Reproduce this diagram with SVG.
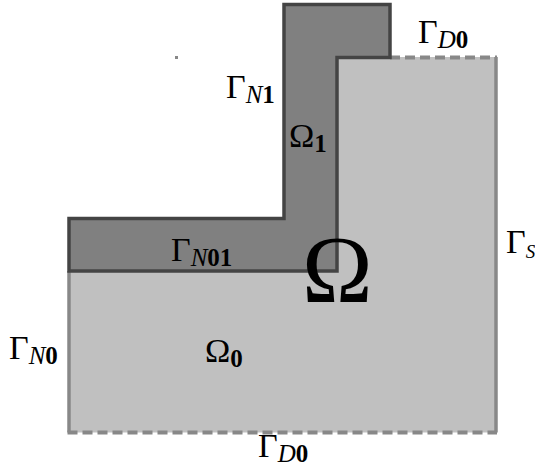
<svg xmlns="http://www.w3.org/2000/svg" width="535" height="474" viewBox="0 0 535 474">
<style>
.lbl{font-family:"Liberation Serif","DejaVu Serif",serif;font-size:34px;fill:#000}
.sub{font-size:25px}
.it{font-style:italic}
.bd{font-weight:bold}
.big{font-family:"Liberation Serif","DejaVu Serif",serif;font-size:95px;fill:#000}
.solid{fill:none;stroke:#888;stroke-width:3.5}
.dash{fill:none;stroke:#888;stroke-width:4;stroke-dasharray:10 5}
</style>
<rect width="535" height="474" fill="#fff"/>
<g id="omega0">
<polygon points="337,57 496,57 496,432.5 69,432.5 69,271 337,271" fill="#c0c0c0"/>
</g>
<g id="boundaries">
<path class="solid" d="M69,271 V432.5"/>
<path class="solid" d="M496,57 V432.5"/>
<path class="dash" d="M390,57.5 H497"/>
<path class="dash" d="M67.5,432.5 H497"/>
</g>
<g id="omega1">
<polygon points="69,218.5 284,218.5 284,4.5 390,4.5 390,57.5 337,57.5 337,271 69,271" fill="#808080" stroke="#444" stroke-width="3.5"/>
</g>
<rect x="175" y="56" width="3" height="3" fill="#888"/>
<g id="labels">
<text class="lbl" x="418" y="43">Γ<tspan class="sub it" dy="5">D</tspan><tspan class="sub bd">0</tspan></text>
<text class="lbl" x="226" y="98">Γ<tspan class="sub it" dy="5">N</tspan><tspan class="sub bd">1</tspan></text>
<text class="lbl" x="289" y="147">Ω<tspan class="sub bd" dy="5">1</tspan></text>
<text class="lbl" x="171" y="261">Γ<tspan class="sub it" dy="5">N</tspan><tspan class="sub bd">01</tspan></text>
<text class="lbl" x="506" y="253" font-size="32">Γ<tspan class="it" dy="5" font-size="19">S</tspan></text>
<text class="lbl" x="9" y="359">Γ<tspan class="sub it" dy="5">N</tspan><tspan class="sub bd">0</tspan></text>
<text class="lbl" x="205" y="362">Ω<tspan class="sub bd" dy="5">0</tspan></text>
<text class="lbl" x="258" y="457">Γ<tspan class="sub it" dy="5">D</tspan><tspan class="sub bd">0</tspan></text>
<text class="big" x="302" y="302">Ω</text>
</g>
</svg>
